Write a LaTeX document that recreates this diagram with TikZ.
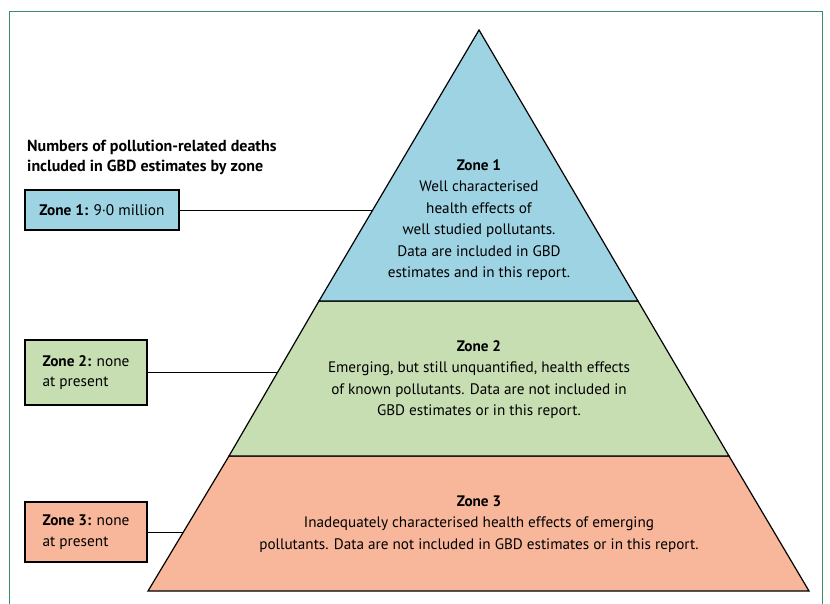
\documentclass[tikz,border=0pt]{standalone}
\usepackage{fontspec}
\setmainfont{PT Sans}
\usepackage{xcolor}
\usepackage{tikz}

\definecolor{zoneone}{RGB}{157,211,227}
\definecolor{zonetwo}{RGB}{199,222,178}
\definecolor{zonethree}{RGB}{248,182,155}
\definecolor{framegreen}{RGB}{58,140,98}

\tikzset{
  zonebox/.style={draw=black, line width=1.2pt, inner sep=0pt, align=left, font=\fontsize{15.3}{20.5}\selectfont},
  zonetext/.style={align=center, inner sep=0pt, font=\fontsize{15.2}{21.5}\selectfont},
  link/.style={black, line width=1pt}
}

\begin{document}
\begin{tikzpicture}[scale=0.3515]
\useasboundingbox (0,0) rectangle (83,-60.4);
% frame
\draw [framegreen, line width=1.2pt] (0.95,-60.4) -- (0.95,-1.15) -- (82.25,-1.15) -- (82.25,-60.4);
% pyramid
\coordinate (apex) at (47.9,-3.0);
\draw [black, line width=1.2pt, fill=zonethree] (22.9,-45.6) -- (72.9,-45.6) -- (80.9,-59.1) -- (14.8,-59.1) -- cycle;
\draw [black, line width=1.2pt, fill=zonetwo] (31.9,-30.1) -- (63.8,-30.1) -- (72.9,-45.6) -- (22.9,-45.6) -- cycle;
\draw [black, line width=1.2pt, fill=zoneone] (apex) -- (63.8,-30.1) -- (31.9,-30.1) -- cycle;
\node [zonetext] (z1) at (47.9,-22.0) {\textbf{Zone 1}\\Well characterised\\health effects of\\well studied pollutants.\\Data are included in GBD\\estimates and in this report.};
\node [zonetext] (z2) at (47.9,-37.95) {\textbf{Zone 2}\\Emerging, but still unquantified, health effects\\of known pollutants. Data are not included in\\GBD estimates or in this report.};
\node [zonetext] (z3) at (47.9,-52.4) {\textbf{Zone 3}\\Inadequately characterised health effects of emerging\\pollutants. Data are not included in GBD estimates or in this report.};
% left side
\node [anchor=west, inner sep=0pt, align=left, font=\bfseries\fontsize{16}{20}\selectfont] (title) at (2.7,-15.7) {Numbers of pollution-related deaths\\included in GBD estimates by zone};
\node [zonebox, fill=zoneone, minimum width=154pt, minimum height=40pt] (box1) at (10.2,-21.0) {\textbf{Zone 1:} 9·0 million};
\node [zonebox, fill=zonetwo, minimum width=122pt, minimum height=65pt] (box2) at (8.6,-37.25) {\textbf{Zone 2:} none\\at present};
\node [zonebox, fill=zonethree, minimum width=122pt, minimum height=60pt] (box3) at (8.6,-53.2) {\textbf{Zone 3:} none\\at present};
\coordinate (e1) at (37.28,-21.0);
\coordinate (e2) at (27.69,-37.25);
\coordinate (e3) at (18.28,-53.2);
\draw [link] (box1.east) -- (e1);
\draw [link] (box2.east) -- (e2);
\draw [link] (box3.east) -- (e3);
\end{tikzpicture}
\end{document}
